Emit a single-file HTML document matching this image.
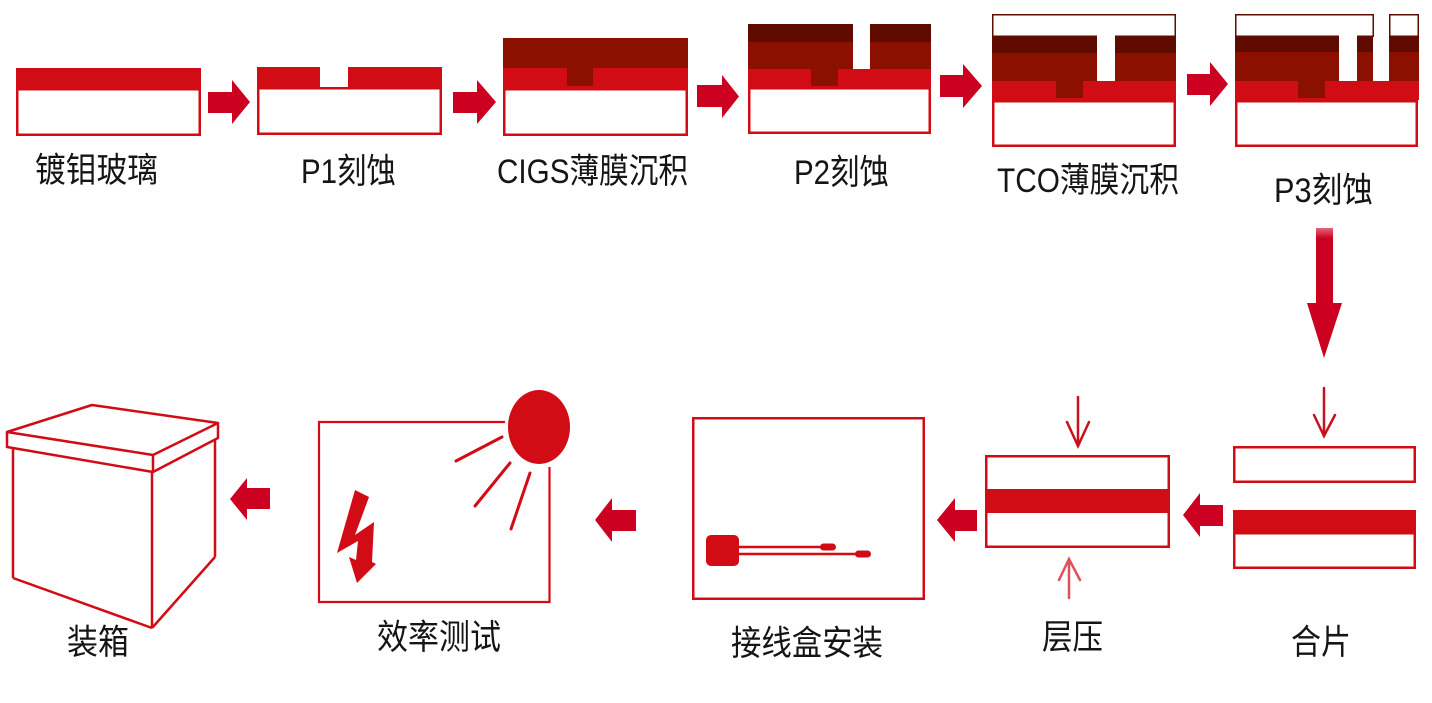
<!DOCTYPE html>
<html>
<head>
<meta charset="utf-8">
<style>
html,body{margin:0;padding:0;background:#fff;}
svg{display:block;}
text{font-family:"Liberation Sans","Noto Sans CJK SC",sans-serif;font-size:31px;fill:#151515;}
</style>
</head>
<body>
<svg width="1432" height="703" viewBox="0 0 1432 703" xmlns="http://www.w3.org/2000/svg">
<rect width="1432" height="703" fill="#fff"/>

<!-- ===== Top row ===== -->
<!-- Box 1 -->
<rect x="17.25" y="89.25" width="182.5" height="45.5" fill="#fff" stroke="#d10c15" stroke-width="2.5"/>
<rect x="16" y="68" width="185" height="20" fill="#d10c15"/>

<!-- Box 2 -->
<rect x="258.25" y="88.25" width="182.5" height="45.5" fill="#fff" stroke="#d10c15" stroke-width="2.5"/>
<rect x="257" y="67" width="63" height="20" fill="#d10c15"/>
<rect x="348" y="67" width="94" height="20" fill="#d10c15"/>

<!-- Box 3 -->
<rect x="504.25" y="89.25" width="182.5" height="45.5" fill="#fff" stroke="#d10c15" stroke-width="2.5"/>
<rect x="503" y="38" width="185" height="30" fill="#8c1000"/>
<rect x="503" y="68" width="185" height="20" fill="#d10c15"/>
<rect x="567" y="68" width="26" height="18" fill="#8c1000"/>

<!-- Box 4 -->
<rect x="749.25" y="88.25" width="180.5" height="44.5" fill="#fff" stroke="#d10c15" stroke-width="2.5"/>
<rect x="748" y="24" width="183" height="18" fill="#5f0b00"/>
<rect x="748" y="42" width="183" height="27" fill="#8c1000"/>
<rect x="748" y="69" width="183" height="18" fill="#d10c15"/>
<rect x="811" y="69" width="27" height="17" fill="#8c1000"/>
<rect x="853" y="24" width="17" height="45" fill="#fff"/>

<!-- Box 5 -->
<rect x="993.25" y="101.25" width="181.5" height="44.5" fill="#fff" stroke="#d10c15" stroke-width="2.5"/>
<rect x="992.75" y="14.75" width="182.5" height="21.5" fill="#fff" stroke="#5f0b00" stroke-width="1.5"/>
<rect x="992" y="36" width="184" height="17" fill="#5f0b00"/>
<rect x="992" y="53" width="184" height="28" fill="#8c1000"/>
<rect x="992" y="81" width="184" height="19" fill="#d10c15"/>
<rect x="1056" y="81" width="27" height="17" fill="#8c1000"/>
<rect x="1097" y="35" width="18" height="46" fill="#fff"/>

<!-- Box 6 -->
<rect x="1236.25" y="101.25" width="180.5" height="44.5" fill="#fff" stroke="#d10c15" stroke-width="2.5"/>
<rect x="1235.75" y="14.75" width="137.5" height="21.5" fill="#fff" stroke="#5f0b00" stroke-width="1.5"/>
<rect x="1389.75" y="14.75" width="28.5" height="21.5" fill="#fff" stroke="#5f0b00" stroke-width="1.5"/>
<rect x="1235" y="36" width="138" height="16" fill="#5f0b00"/>
<rect x="1389" y="36" width="30" height="16" fill="#5f0b00"/>
<rect x="1235" y="52" width="138" height="29" fill="#8c1000"/>
<rect x="1389" y="52" width="30" height="29" fill="#8c1000"/>
<rect x="1235" y="81" width="184" height="19" fill="#d10c15"/>
<rect x="1298" y="81" width="27" height="17" fill="#8c1000"/>
<rect x="1339" y="35" width="18" height="46" fill="#fff"/>

<!-- Right arrows top row -->
<g fill="#cc0020">
<polygon points="208,92 232,92 232,80 250,102 232,124 232,113 208,113"/>
<polygon points="453,92 477,92 477,80 496,102 477,124 477,113 453,113"/>
<polygon points="697,85 722,85 722,75 739,96.5 722,118 722,107 697,107"/>
<polygon points="940,75 963,75 963,64 982,86 963,108 963,97 940,97"/>
<polygon points="1187,74 1210,74 1210,62 1228,84 1210,106 1210,95 1187,95"/>
</g>

<!-- Top labels -->
<text transform="translate(96.5,182) scale(1,1.12)" text-anchor="middle" textLength="123" lengthAdjust="spacingAndGlyphs">镀钼玻璃</text>
<text transform="translate(348.5,183) scale(1,1.12)" text-anchor="middle" textLength="95" lengthAdjust="spacingAndGlyphs">P1刻蚀</text>
<text transform="translate(592.5,183) scale(1,1.12)" text-anchor="middle" textLength="191" lengthAdjust="spacingAndGlyphs">CIGS薄膜沉积</text>
<text transform="translate(841.5,184) scale(1,1.12)" text-anchor="middle" textLength="95" lengthAdjust="spacingAndGlyphs">P2刻蚀</text>
<text transform="translate(1088,192) scale(1,1.12)" text-anchor="middle" textLength="182" lengthAdjust="spacingAndGlyphs">TCO薄膜沉积</text>
<text transform="translate(1323.5,202) scale(1,1.12)" text-anchor="middle" textLength="99" lengthAdjust="spacingAndGlyphs">P3刻蚀</text>

<!-- Big down arrow -->
<defs>
<linearGradient id="fade" x1="0" y1="0" x2="0" y2="1">
<stop offset="0" stop-color="#cc0020" stop-opacity="0.6"/>
<stop offset="0.08" stop-color="#cc0020" stop-opacity="1"/>
<stop offset="1" stop-color="#cc0020" stop-opacity="1"/>
</linearGradient>
</defs>
<polygon points="1316,228 1333,228 1333,303 1342,303 1324,358 1307,303 1316,303" fill="url(#fade)"/>

<!-- ===== Bottom row ===== -->
<!-- 合片 -->
<rect x="1234.25" y="447.25" width="180.5" height="34.5" fill="#fff" stroke="#d10c15" stroke-width="2.5"/>
<rect x="1233" y="510" width="183" height="22" fill="#d10c15"/>
<rect x="1234.25" y="533.25" width="180.5" height="34.5" fill="#fff" stroke="#d10c15" stroke-width="2.5"/>
<g stroke="#c8101e" stroke-width="2.5" fill="none" stroke-linecap="round">
<line x1="1324" y1="388" x2="1324" y2="436"/>
<polyline points="1314,415 1324,436 1335,415"/>
</g>

<!-- 层压 -->
<rect x="986.25" y="456.25" width="182.5" height="90.5" fill="#fff" stroke="#d10c15" stroke-width="2.5"/>
<rect x="985" y="489" width="185" height="24" fill="#d10c15"/>
<g stroke="#c8101e" stroke-width="2.5" fill="none" stroke-linecap="round">
<line x1="1078" y1="397" x2="1078" y2="446"/>
<polyline points="1067,422 1078,446 1089,422"/>
</g>
<g stroke="#e0505c" stroke-width="2.5" fill="none" stroke-linecap="round">
<line x1="1069" y1="559" x2="1069" y2="598"/>
<polyline points="1059,580 1069,559 1080,580"/>
</g>

<!-- 接线盒安装 -->
<rect x="693.25" y="418.25" width="230.5" height="180.5" fill="#fff" stroke="#d10c15" stroke-width="2.5"/>
<rect x="706" y="535" width="33" height="31" rx="5" fill="#d10c15"/>
<g stroke="#d10c15" stroke-width="2.5">
<line x1="738" y1="547" x2="822" y2="547"/>
<line x1="738" y1="554" x2="857" y2="554"/>
</g>
<rect x="820" y="543.5" width="16" height="7" rx="3.5" fill="#d10c15"/>
<rect x="855" y="550.5" width="16" height="7" rx="3.5" fill="#d10c15"/>

<!-- 效率测试 -->
<path d="M505,422 H319 V602 H549.5 V467" fill="none" stroke="#d10c15" stroke-width="2.2"/>
<ellipse cx="539" cy="427" rx="31" ry="37" fill="#d10c15"/>
<g stroke="#d10c15" stroke-width="3" stroke-linecap="round">
<line x1="502" y1="437" x2="456" y2="461"/>
<line x1="510" y1="463" x2="475" y2="506"/>
<line x1="530" y1="473" x2="511" y2="529"/>
</g>
<polygon points="355,490 369,497 355,535 374,522 372,562 376,564 357,583 349,557 356,560 358,541 337,553" fill="#d10c15"/>

<!-- 装箱 -->
<g fill="none" stroke="#d10c15" stroke-width="2.5" stroke-linejoin="round">
<polygon points="7,432 92,405 218,423 153,455" fill="#fff"/>
<polyline points="7,432 7,447 153,472 153,455"/>
<polyline points="153,472 218,438 218,423"/>
<line x1="13" y1="447" x2="13" y2="578"/>
<line x1="13" y1="578" x2="152" y2="628"/>
<line x1="152" y1="472" x2="152" y2="628"/>
<line x1="152" y1="628" x2="215" y2="557"/>
<line x1="215" y1="439" x2="215" y2="557"/>
</g>

<!-- Left arrows bottom row -->
<g fill="#cc0020">
<polygon points="1223,505 1200,505 1200,493 1183,515 1200,537 1200,526 1223,526"/>
<polygon points="977,510 955,510 955,498 937,520 955,542 955,531 977,531"/>
<polygon points="636,510 612,510 612,498 595,520 612,542 612,531 636,531"/>
<polygon points="270,488 247,488 247,478 230,499 247,520 247,509 270,509"/>
</g>

<!-- Bottom labels -->
<text transform="translate(98,654) scale(1,1.12)" text-anchor="middle" textLength="62" lengthAdjust="spacingAndGlyphs">装箱</text>
<text transform="translate(439,649) scale(1,1.12)" text-anchor="middle" textLength="124" lengthAdjust="spacingAndGlyphs">效率测试</text>
<text transform="translate(807,655) scale(1,1.12)" text-anchor="middle" textLength="152" lengthAdjust="spacingAndGlyphs">接线盒安装</text>
<text transform="translate(1072.5,649) scale(1,1.12)" text-anchor="middle" textLength="61" lengthAdjust="spacingAndGlyphs">层压</text>
<text transform="translate(1321,654) scale(1,1.12)" text-anchor="middle" textLength="60" lengthAdjust="spacingAndGlyphs">合片</text>
</svg>
</body>
</html>
